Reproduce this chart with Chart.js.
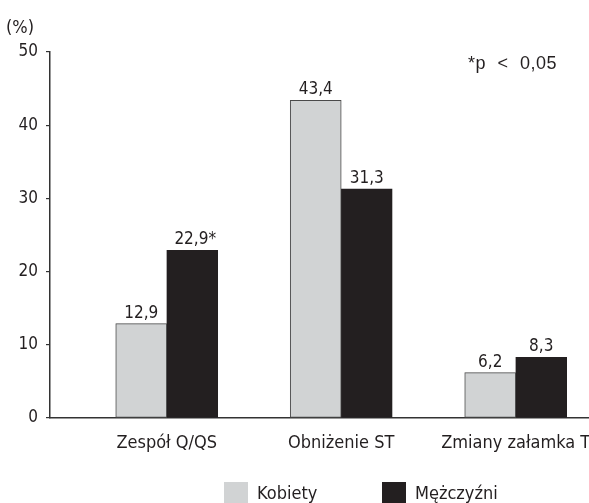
<!DOCTYPE html>
<html>
<head>
<meta charset="utf-8">
<script src="https://cdn.jsdelivr.net/npm/chart.js@4.4.0/dist/chart.umd.min.js"></script>
<style>
  html, body { margin: 0; padding: 0; background: #fff; }
  #wrap { width: 589px; height: 503px; }
</style>
</head>
<body>
<div id="wrap"><canvas id="myChart" width="589" height="503"></canvas></div>
<script>
const categories = ['Zespół Q/QS', 'Obniżenie ST', 'Zmiany załamka T'];
const kobiety = [12.9, 43.4, 6.2];
const mezczyzni = [22.9, 31.3, 8.3];
const mezczyzniMarks = ['*', '', ''];
const yTicks = [0, 10, 20, 30, 40, 50];

const condensed = "'Liberation Sans Narrow', 'DejaVu Sans Condensed', 'Arial Narrow', sans-serif";
const ink = '#231f20';

function toPoints(values) {
    return values.map(function (v, i) { return { x: i, y: v }; });
}

function fmt(v) {
    return v.toFixed(1).replace('.', ',');
}

const extras = {
    id: 'extras',
    afterDatasetsDraw: function (chart) {
        const ctx = chart.ctx;
        ctx.save();
        ctx.fillStyle = ink;
        ctx.font = '17px ' + condensed;
        ctx.textAlign = 'center';
        ctx.textBaseline = 'alphabetic';
        chart.data.datasets.forEach(function (ds, di) {
            const meta = chart.getDatasetMeta(di);
            meta.data.forEach(function (bar, i) {
                let txt = fmt(ds.data[i].y);
                if (ds.marks) txt += ds.marks[i];
                ctx.fillText(txt, bar.x + (ds.marks && ds.marks[i] ? 3 : 0), bar.y - 6);
            });
        });

        // unit label
        ctx.textAlign = 'left';
        ctx.textBaseline = 'alphabetic';
        ctx.font = '18px ' + condensed;
        ctx.fillText('(%)', 6, 33);

        // significance note
        ctx.font = '18px "Liberation Sans", Arial, sans-serif';
        ctx.wordSpacing = '6px';
        ctx.letterSpacing = '0.5px';
        ctx.fillText('*p < 0,05', 468, 69);
        ctx.wordSpacing = '0px';
        ctx.letterSpacing = '0px';

        // legend
        const items = [
            { x: 224, ds: chart.data.datasets[0] },
            { x: 382, ds: chart.data.datasets[1] }
        ];
        ctx.font = '18px ' + condensed;
        ctx.textBaseline = 'middle';
        items.forEach(function (it) {
            ctx.fillStyle = it.ds.backgroundColor;
            ctx.fillRect(it.x, 482, 24, 21);
            ctx.fillStyle = ink;
            ctx.fillText(it.ds.label, it.x + 33, 494);
        });
        ctx.restore();
    }
};

const config = {
    type: 'bar',
    data: {
        datasets: [{
            label: 'Kobiety',
            data: toPoints(kobiety),
            backgroundColor: '#d1d3d4',
            borderColor: '#4a4a4a',
            borderWidth: 1,
            borderSkipped: false
        }, {
            label: 'Mężczyźni',
            data: toPoints(mezczyzni),
            marks: mezczyzniMarks,
            backgroundColor: ink,
            borderColor: ink,
            borderWidth: 1,
            borderSkipped: false
        }]
    },
    options: {
        responsive: false,
        devicePixelRatio: 1,
        animation: false,
        barThickness: 51,
        layout: { padding: { top: 52, left: 0, right: 0, bottom: 0 } },
        plugins: {
            legend: { display: false },
            tooltip: { enabled: false }
        },
        scales: {
            x: {
                type: 'linear',
                offset: false,
                bounds: 'data',
                min: -0.669,
                max: 2.42,
                grid: { display: false, drawTicks: false, offset: false },
                border: { display: true, color: '#333', width: 1.5 },
                afterBuildTicks: function (scale) {
                    scale.ticks = categories.map(function (c, i) { return { value: i }; });
                },
                afterFit: function (scale) {
                    scale.height = 85;
                    scale.paddingLeft = 0;
                    scale.paddingRight = 0;
                },
                ticks: {
                    padding: 15,
                    color: ink,
                    font: { size: 18, family: condensed },
                    maxRotation: 0,
                    autoSkip: false,
                    callback: function (value) { return categories[value]; }
                }
            },
            y: {
                min: 0,
                max: 50,
                afterBuildTicks: function (scale) {
                    scale.ticks = yTicks.map(function (v) { return { value: v }; });
                },
                afterFit: function (scale) {
                    scale.width = 50;
                    scale.paddingTop = 0;
                    scale.paddingBottom = 0;
                },
                grid: {
                    drawOnChartArea: false,
                    drawTicks: true,
                    tickLength: 4,
                    color: '#333',
                    lineWidth: 1.2
                },
                border: { display: true, color: '#333', width: 1.5 },
                ticks: {
                    padding: 8,
                    color: ink,
                    font: { size: 17, family: condensed }
                }
            }
        }
    },
    plugins: [extras]
};

const myChart = new Chart(document.getElementById('myChart'), config);
</script>
</body>
</html>
